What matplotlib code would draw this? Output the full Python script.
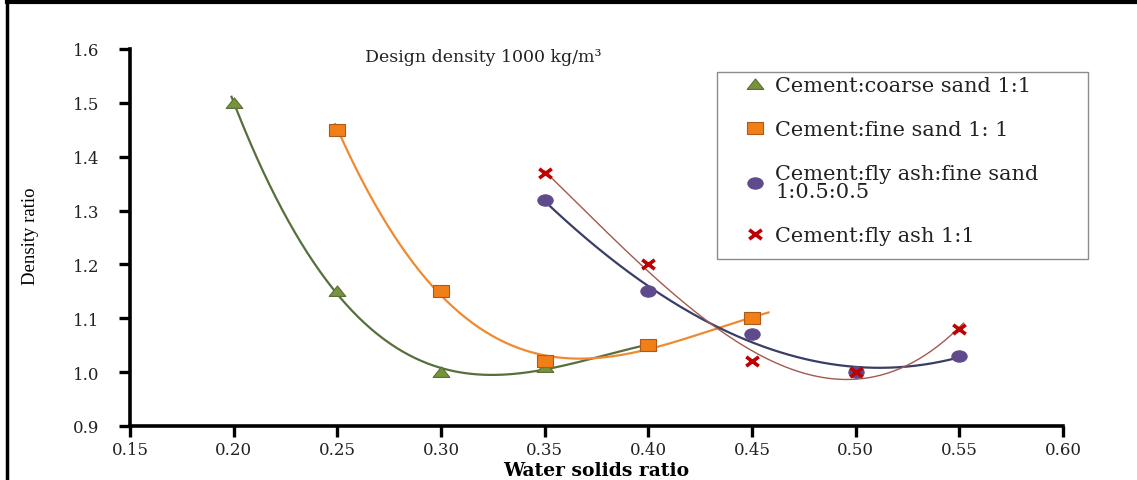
import numpy as np
import matplotlib
matplotlib.use("Agg")
import matplotlib.pyplot as plt
from matplotlib.lines import Line2D
from matplotlib.patches import Rectangle
from matplotlib.path import Path

plt.rcParams['font.family'] = ['DejaVu Serif']

# dados
x_coarse = [0.20, 0.25, 0.30, 0.35, 0.40]
y_coarse = [1.50, 1.15, 1.00, 1.01, 1.05]

x_fine = [0.25, 0.30, 0.35, 0.40, 0.45]
y_fine = [1.45, 1.15, 1.02, 1.05, 1.10]

x_flyfine = [0.35, 0.40, 0.45, 0.50, 0.55]
y_flyfine = [1.32, 1.15, 1.07, 1.00, 1.03]

x_fly = [0.35, 0.40, 0.45, 0.50, 0.55]
y_fly = [1.37, 1.20, 1.02, 1.00, 1.08]

x_ticks = [0.15, 0.20, 0.25, 0.30, 0.35, 0.40, 0.45, 0.50, 0.55, 0.60]
y_ticks = [0.9, 1.0, 1.1, 1.2, 1.3, 1.4, 1.5, 1.6]

# marcadores um pouco achatados (a figura original esta esticada na horizontal)
k = 1.35
m_tri = Path([(-k, -0.8), (k, -0.8), (0, 0.9), (-k, -0.8)], closed=True)
m_sq = Path([(-k * 0.8, -0.8), (k * 0.8, -0.8), (k * 0.8, 0.8), (-k * 0.8, 0.8), (-k * 0.8, -0.8)], closed=True)
circ = Path.unit_circle()
m_circ = Path(circ.vertices * np.array([k, 1.0]), circ.codes)
m_x = Path([(-k, -1), (k, 1), (-k, 1), (k, -1)],
           [Path.MOVETO, Path.LINETO, Path.MOVETO, Path.LINETO])

fig = plt.figure(figsize=(11.37, 4.81), dpi=100)
ax = fig.add_axes([0.1143, 0.1123, 0.8206, 0.7838])


def trend(x, y, x0, x1, deg=3):
    # linha de tendencia polinomial (como no Excel)
    c = np.polyfit(x, y, deg)
    xs = np.linspace(x0, x1, 200)
    return xs, np.polyval(c, xs)


series = [
    (x_coarse, y_coarse, 'Cement:coarse sand 1:1', m_tri, '#77933c', '#5a7035', '#56703c', 1.6, 0.199, 0.401, 12),
    (x_fine, y_fine, 'Cement:fine sand 1: 1', m_sq, '#f07f17', '#b05a18', '#f08a30', 1.6, 0.249, 0.458, 11),
    (x_flyfine, y_flyfine, 'Cement:fly ash:fine sand\n1:0.5:0.5', m_circ, '#5f4b8b', '#5f4b8b', '#383e66', 1.6, 0.35, 0.552, 11),
    (x_fly, y_fly, 'Cement:fly ash 1:1', m_x, '#c00000', '#c00000', '#a4584e', 1.0, 0.35, 0.552, 9),
]

handles = []
for xs, ys, lab, mk, fc, ec, lc, lw, x0, x1, ms in series:
    tx, ty = trend(xs, ys, x0, x1)
    ax.plot(tx, ty, color=lc, linewidth=lw, zorder=2)
    if mk is m_x:
        h, = ax.plot(xs, ys, linestyle='none', marker=mk, markersize=ms, markeredgewidth=2.6,
                     markerfacecolor='none', color=fc, label=lab, zorder=3)
    else:
        h, = ax.plot(xs, ys, linestyle='none', marker=mk, markersize=ms, markerfacecolor=fc,
                     markeredgecolor=ec, markeredgewidth=0.8, label=lab, zorder=3)
    handles.append(h)

ax.set_xlim(0.15, 0.60)
ax.set_ylim(0.9, 1.6)
ax.set_xticks(x_ticks)
ax.set_xticklabels([f'{v:.2f}' for v in x_ticks])
ax.set_yticks(y_ticks)
ax.set_yticklabels([f'{v:.1f}' for v in y_ticks])
ax.tick_params(axis='both', direction='out', length=8, width=2.4, labelsize=12,
               colors='black', labelcolor='#222222')
ax.tick_params(axis='x', pad=3)
ax.tick_params(axis='y', pad=14)

for s in ['top', 'right']:
    ax.spines[s].set_visible(False)
for s in ['left', 'bottom']:
    ax.spines[s].set_linewidth(2.6)

ax.set_xlabel('Water solids ratio', fontsize=13.5, fontweight='bold', va='center')
ax.xaxis.set_label_coords(0.5, -0.118)
ax.set_ylabel('Density ratio', fontsize=13.5, family='Liberation Serif', va='center')
ax.yaxis.set_label_coords(-0.107, 0.505)

fig.text(483 / 1137, 1 - 58 / 481, 'Design density 1000 kg/m³', fontsize=12.5,
         ha='center', va='center', color='#222222')

# caixa da legenda
fig.add_artist(Rectangle((717 / 1137, 1 - 260 / 481), 371 / 1137, 187 / 481,
                         transform=fig.transFigure, facecolor='white', edgecolor='#8c8c8c',
                         linewidth=1.0, zorder=4))
leg = fig.legend(handles, [s[2] for s in series], loc='upper left',
                 bbox_to_anchor=(745 / 1137, 1 - 77 / 481), bbox_transform=fig.transFigure,
                 fontsize=15, frameon=False, labelspacing=1.2, handlelength=1.0,
                 handletextpad=0.45, borderpad=0, borderaxespad=0)
leg.set_zorder(6)
for t in leg.get_texts():
    t.set_linespacing(0.95)
    t.set_color('#222222')

# moldura da figura (so esquerda e topo aparecem)
fig.add_artist(Line2D([7 / 1137, 7 / 1137], [0.0, 1 - 3 / 481], transform=fig.transFigure, color='black', linewidth=2.5))
fig.add_artist(Line2D([7 / 1137, 1.0], [1 - 3 / 481, 1 - 3 / 481], transform=fig.transFigure, color='black', linewidth=3))

fig.savefig('out.png', dpi=100)
